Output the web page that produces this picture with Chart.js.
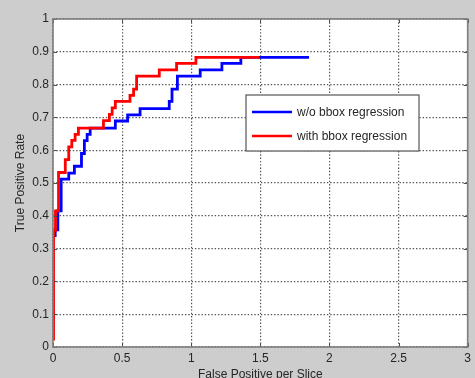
<!DOCTYPE html>
<html>
<head>
<meta charset="utf-8">
<script src="https://cdn.jsdelivr.net/npm/chart.js@4/dist/chart.umd.min.js"></script>
<style>
    html, body { margin: 0; padding: 0; background: #cdcdcd; }
    canvas { display: block; }
</style>
</head>
<body>
<canvas id="froc" width="475" height="378"></canvas>
<script>
// FROC curves (x = FP per slice, y = TPR)
const fpWithoutBbox = [0.016, 0.016, 0.035, 0.059, 0.114, 0.155, 0.206, 0.227, 0.247, 0.269, 0.451, 0.540, 0.630, 0.841, 0.861, 0.900, 1.065, 1.222, 1.359, 1.852];
const tprWithoutBbox = [0.335, 0.357, 0.415, 0.512, 0.530, 0.551, 0.590, 0.629, 0.648, 0.667, 0.689, 0.708, 0.727, 0.749, 0.786, 0.826, 0.845, 0.865, 0.883, 0.883];

const fpWithBbox = [0.004, 0.004, 0.018, 0.040, 0.089, 0.114, 0.136, 0.160, 0.184, 0.365, 0.408, 0.428, 0.451, 0.557, 0.583, 0.605, 0.769, 0.894, 1.034, 1.491];
const tprWithBbox = [0.020, 0.356, 0.415, 0.532, 0.571, 0.610, 0.630, 0.648, 0.667, 0.690, 0.709, 0.729, 0.749, 0.767, 0.786, 0.826, 0.845, 0.865, 0.883, 0.883];

const seriesLabels = ['w/o bbox regression', 'with bbox regression'];

const xTickValues = [0, 0.5, 1, 1.5, 2, 2.5, 3];
const xTickLabels = ['0', '0.5', '1', '1.5', '2', '2.5', '3'];
const yTickValues = [0, 0.1, 0.2, 0.3, 0.4, 0.5, 0.6, 0.7, 0.8, 0.9, 1];
const yTickLabels = ['0', '0.1', '0.2', '0.3', '0.4', '0.5', '0.6', '0.7', '0.8', '0.9', '1'];

const FONT = 'Arial, "Liberation Sans", sans-serif';

function toPoints(xs, ys) {
    return xs.map((x, i) => ({x: x, y: ys[i]}));
}

// matlab-ish figure: grey figure, white axes, box with inward ticks
const axesFrame = {
    id: 'axesFrame',
    beforeDraw(chart) {
        const {ctx, chartArea: a} = chart;
        ctx.save();
        ctx.fillStyle = '#cdcdcd';
        ctx.fillRect(0, 0, chart.width, chart.height);
        ctx.fillStyle = '#ffffff';
        ctx.fillRect(a.left, a.top, a.right - a.left, a.bottom - a.top);
        ctx.restore();
    },
    afterDraw(chart) {
        const {ctx, chartArea: a, scales} = chart;
        ctx.save();
        ctx.strokeStyle = '#4d4d4d';
        ctx.lineWidth = 1;
        ctx.beginPath();
        xTickValues.forEach(v => {
            const px = Math.round(scales.x.getPixelForValue(v)) + 0.5;
            ctx.moveTo(px, a.bottom); ctx.lineTo(px, a.bottom - 4);
            ctx.moveTo(px, a.top); ctx.lineTo(px, a.top + 4);
        });
        yTickValues.forEach(v => {
            const py = Math.round(scales.y.getPixelForValue(v)) + 0.5;
            ctx.moveTo(a.left, py); ctx.lineTo(a.left + 4, py);
            ctx.moveTo(a.right, py); ctx.lineTo(a.right - 4, py);
        });
        ctx.stroke();
        ctx.strokeStyle = '#808080';
        ctx.lineWidth = 1.6;
        ctx.strokeRect(a.left, a.top, a.right - a.left, a.bottom - a.top);
        ctx.restore();
    }
};

// legend box sitting inside the axes
const innerLegend = {
    id: 'innerLegend',
    afterDraw(chart) {
        const ctx = chart.ctx;
        const box = {left: 246, top: 95, width: 173, height: 56};
        ctx.save();
        ctx.fillStyle = '#ffffff';
        ctx.fillRect(box.left, box.top, box.width, box.height);
        ctx.strokeStyle = '#555555';
        ctx.lineWidth = 1.2;
        ctx.strokeRect(box.left, box.top, box.width, box.height);

        ctx.font = '12px ' + FONT;
        ctx.textBaseline = 'middle';
        chart.data.datasets.forEach((ds, i) => {
            const y = box.top + 17 + i * 24;
            ctx.strokeStyle = ds.borderColor;
            ctx.lineWidth = 2.6;
            ctx.beginPath();
            ctx.moveTo(box.left + 6, y);
            ctx.lineTo(box.left + 46, y);
            ctx.stroke();
            ctx.fillStyle = '#262626';
            ctx.fillText(ds.label, box.left + 51, y + 1);
        });
        ctx.restore();
    }
};

const gridStyle = {
    color: '#555555',
    lineWidth: 1.2,
    drawTicks: false
};

new Chart(document.getElementById('froc'), {
    type: 'scatter',
    data: {
        datasets: [{
            label: seriesLabels[0],
            data: toPoints(fpWithoutBbox, tprWithoutBbox),
            showLine: true,
            stepped: 'before',
            borderColor: '#0000ff',
            backgroundColor: '#0000ff',
            borderWidth: 2.8,
            pointRadius: 0,
            order: 2
        }, {
            label: seriesLabels[1],
            data: toPoints(fpWithBbox, tprWithBbox),
            showLine: true,
            stepped: 'before',
            borderColor: '#ff0000',
            backgroundColor: '#ff0000',
            borderWidth: 2.8,
            pointRadius: 0,
            order: 1
        }]
    },
    options: {
        responsive: false,
        animation: false,
        devicePixelRatio: 1,
        layout: {padding: {left: 0, right: 7, top: 19, bottom: 0}},
        plugins: {
            legend: {display: false},
            tooltip: {enabled: false}
        },
        scales: {
            x: {
                type: 'linear',
                min: 0,
                max: 3,
                afterBuildTicks: scale => {
                    scale.ticks = xTickValues.map(v => ({value: v}));
                },
                afterFit: scale => {
                    scale.height = 31;
                },
                grid: Object.assign({}, gridStyle),
                border: {display: false, dash: [1.4, 1.9]},
                ticks: {
                    padding: 4,
                    maxRotation: 0,
                    color: '#262626',
                    font: {family: FONT, size: 12},
                    callback: (value, i) => xTickLabels[i]
                },
                title: {
                    display: true,
                    text: 'False Positive per Slice',
                    color: '#262626',
                    font: {family: FONT, size: 12, lineHeight: 1},
                    padding: {top: 0, bottom: -3}
                }
            },
            y: {
                type: 'linear',
                min: 0,
                max: 1,
                afterBuildTicks: scale => {
                    scale.ticks = yTickValues.map(v => ({value: v}));
                },
                afterFit: scale => {
                    scale.width = 53;
                },
                grid: Object.assign({}, gridStyle),
                border: {display: false, dash: [1.4, 1.9]},
                ticks: {
                    padding: 4,
                    color: '#262626',
                    font: {family: FONT, size: 12},
                    callback: (value, i) => yTickLabels[i]
                },
                title: {
                    display: true,
                    text: 'True Positive Rate',
                    color: '#262626',
                    font: {family: FONT, size: 12, lineHeight: 1},
                    padding: {top: 15, bottom: 0}
                }
            }
        }
    },
    plugins: [axesFrame, innerLegend]
});
</script>
</body>
</html>
